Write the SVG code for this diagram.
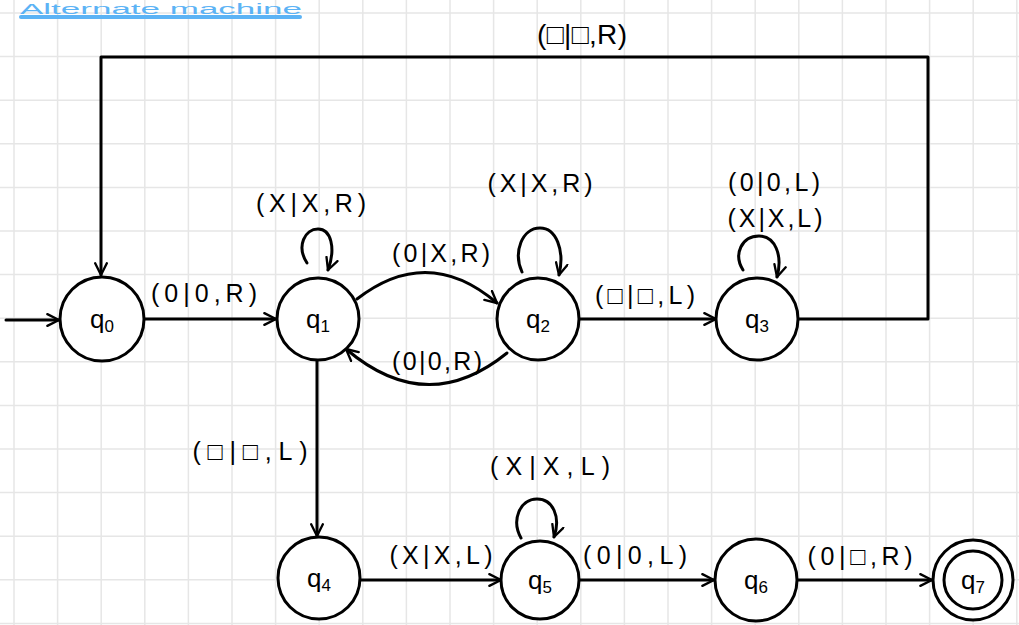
<svg xmlns="http://www.w3.org/2000/svg" width="1019" height="625" viewBox="0 0 1019 625">
<defs>
<style>
.grid{stroke:#e6e6e6;stroke-width:1.5;fill:none}
.st{fill:#fff;stroke:#000;stroke-width:3}
.e{fill:none;stroke:#000;stroke-width:3;stroke-linecap:round;stroke-linejoin:round}
.lbl{font-family:"Liberation Sans",Arial,sans-serif;font-size:25px;fill:#000;text-anchor:middle}
.nl{font-family:"Liberation Sans",Arial,sans-serif;font-size:26px;fill:#000;text-anchor:middle}
.sub{font-size:17px}
.title{font-family:"Liberation Sans",Arial,sans-serif;font-size:14px;fill:#5cb3f5}
</style>
<marker id="arr" viewBox="0 0 12 12" refX="11" refY="6" markerWidth="14" markerHeight="14" markerUnits="userSpaceOnUse" orient="auto">
<path d="M1,1 L11,6 L1,11" fill="none" stroke="#000" stroke-width="2" stroke-linecap="round" stroke-linejoin="round"/>
</marker>
</defs>
<rect width="1019" height="625" fill="#fff"/>
<path class="grid" d="M14,0V625M57.6,0V625M101.2,0V625M144.8,0V625M188.4,0V625M232,0V625M275.6,0V625M319.2,0V625M362.8,0V625M406.4,0V625M450,0V625M493.6,0V625M537.2,0V625M580.8,0V625M624.4,0V625M668,0V625M711.6,0V625M755.2,0V625M798.8,0V625M842.4,0V625M886,0V625M929.6,0V625M973.2,0V625M1016.8,0V625M0,13H1019M0,56.6H1019M0,100.2H1019M0,143.8H1019M0,187.4H1019M0,231H1019M0,274.6H1019M0,318.2H1019M0,361.8H1019M0,405.4H1019M0,449H1019M0,492.6H1019M0,536.2H1019M0,579.8H1019M0,623.4H1019"/>
<g id="title">
<text class="title" x="20" y="14" textLength="282" lengthAdjust="spacingAndGlyphs">Alternate machine</text>
<path d="M21,17H300" stroke="#5cb3f5" stroke-width="4" stroke-linecap="round"/>
</g>
<g id="connectors">
<path class="e" d="M6,320H59" marker-end="url(#arr)"/>
<path class="e" d="M145,319H276" marker-end="url(#arr)"/>
<path class="e" d="M357,299Q428,244 497,303" marker-end="url(#arr)"/>
<path class="e" d="M507,353Q427,418 346,349" marker-end="url(#arr)"/>
<path class="e" d="M578,319H716" marker-end="url(#arr)"/>
<path class="e" d="M798,319H928V57H101V275" marker-end="url(#arr)"/>
<path class="e" d="M317,360V536" marker-end="url(#arr)"/>
<path class="e" d="M361,580H501" marker-end="url(#arr)"/>
<path class="e" d="M579,580H714" marker-end="url(#arr)"/>
<path class="e" d="M798,580H932" marker-end="url(#arr)"/>
<path class="e" d="M307,263C296,246 305,229 318,229C331,229 336,248 328,270" marker-end="url(#arr)"/>
<path class="e" d="M522,272C513,252 522,228 540,228C556,228 565,250 559,275" marker-end="url(#arr)"/>
<path class="e" d="M743,270C733,254 742,236 759,236C775,236 783,255 777,277" marker-end="url(#arr)"/>
<path class="e" d="M521,538C511,520 520,499 537,499C553,499 561,517 554,537" marker-end="url(#arr)"/>
</g>
<g id="labels">
<text class="lbl" x="204" y="302" textLength="106">(0|0,R)</text>
<text class="lbl" x="311" y="212" textLength="110">(X|X,R)</text>
<text class="lbl" x="540" y="192" textLength="105">(X|X,R)</text>
<text class="lbl" x="441" y="262" textLength="98">(0|X,R)</text>
<text class="lbl" x="437" y="370" textLength="90">(0|0,R)</text>
<text class="lbl" x="645" y="304" textLength="100">(□|□,L)</text>
<text class="lbl" x="774" y="191" textLength="92">(0|0,L)</text>
<text class="lbl" x="775" y="227" textLength="95">(X|X,L)</text>
<text class="lbl" x="582" y="44" textLength="90" style="font-size:28px">(□|□,R)</text>
<text class="lbl" x="250" y="460" textLength="115">(□|□,L)</text>
<text class="lbl" x="441" y="564" textLength="103">(X|X,L)</text>
<text class="lbl" x="550" y="475" textLength="120">(X|X,L)</text>
<text class="lbl" x="635" y="564" textLength="104">(0|0,L)</text>
<text class="lbl" x="860" y="565" textLength="105">(0|□,R)</text>
</g>
<g id="q0"><circle class="st" cx="102" cy="319" r="42"/><text class="nl" x="102" y="328">q<tspan class="sub" dy="4">0</tspan></text></g>
<g id="q1"><circle class="st" cx="318" cy="319" r="41"/><text class="nl" x="318" y="328">q<tspan class="sub" dy="4">1</tspan></text></g>
<g id="q2"><circle class="st" cx="538" cy="319" r="41"/><text class="nl" x="538" y="328">q<tspan class="sub" dy="4">2</tspan></text></g>
<g id="q3"><circle class="st" cx="757" cy="319" r="41"/><text class="nl" x="757" y="328">q<tspan class="sub" dy="4">3</tspan></text></g>
<g id="q4"><circle class="st" cx="319" cy="578" r="41"/><text class="nl" x="319" y="587">q<tspan class="sub" dy="4">4</tspan></text></g>
<g id="q5"><circle class="st" cx="540" cy="580" r="39"/><text class="nl" x="540" y="589">q<tspan class="sub" dy="4">5</tspan></text></g>
<g id="q6"><circle class="st" cx="756" cy="580" r="41"/><text class="nl" x="756" y="589">q<tspan class="sub" dy="4">6</tspan></text></g>
<g id="q7"><circle class="st" cx="973" cy="580" r="40"/><circle class="st" cx="973" cy="580" r="29"/><text class="nl" x="973" y="589">q<tspan class="sub" dy="4">7</tspan></text></g>
</svg>
